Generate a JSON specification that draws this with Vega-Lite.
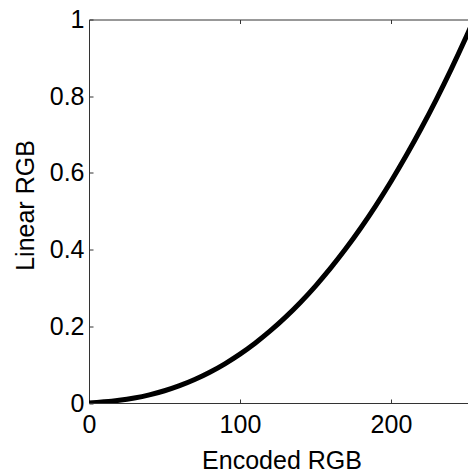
{
  "$schema": "https://vega.github.io/schema/vega-lite/v6.json",
  "autosize": "none",
  "width": 379,
  "height": 383.5,
  "padding": {"left": 89, "top": 19.5, "right": 0, "bottom": 67},
  "background": "white",
  "config": {
    "view": {"stroke": null},
    "font": "Liberation Sans",
    "axis": {
      "domainColor": "#333333",
      "domainWidth": 1,
      "tickColor": "#333333",
      "tickSize": -4,
      "tickWidth": 1,
      "grid": false,
      "labelFont": "Liberation Sans",
      "labelFontSize": 25,
      "labelColor": "black",
      "labelFlush": false,
      "labelOverlap": false,
      "titleFont": "Liberation Sans",
      "titleFontSize": 25,
      "titleFontWeight": "normal",
      "titleColor": "black"
    }
  },
  "data": {
    "values": [
      {"encoded": 0, "linear": 0},
      {"encoded": 5, "linear": 0.00152},
      {"encoded": 10, "linear": 0.00304},
      {"encoded": 15, "linear": 0.00478},
      {"encoded": 20, "linear": 0.00699},
      {"encoded": 30, "linear": 0.01298},
      {"encoded": 40, "linear": 0.02122},
      {"encoded": 50, "linear": 0.0319},
      {"encoded": 60, "linear": 0.04519},
      {"encoded": 70, "linear": 0.06125},
      {"encoded": 80, "linear": 0.08022},
      {"encoded": 90, "linear": 0.10224},
      {"encoded": 100, "linear": 0.12744},
      {"encoded": 110, "linear": 0.15593},
      {"encoded": 120, "linear": 0.18782},
      {"encoded": 130, "linear": 0.22323},
      {"encoded": 140, "linear": 0.26222},
      {"encoded": 150, "linear": 0.30499},
      {"encoded": 160, "linear": 0.35153},
      {"encoded": 170, "linear": 0.40198},
      {"encoded": 180, "linear": 0.45641},
      {"encoded": 190, "linear": 0.51489},
      {"encoded": 200, "linear": 0.57758},
      {"encoded": 210, "linear": 0.64455},
      {"encoded": 220, "linear": 0.71569},
      {"encoded": 230, "linear": 0.79127},
      {"encoded": 240, "linear": 0.87136},
      {"encoded": 250, "linear": 0.95596},
      {"encoded": 255, "linear": 1.0}
    ]
  },
  "layer": [
    {
      "mark": {"type": "line", "color": "black", "strokeWidth": 5, "interpolate": "monotone", "clip": true},
      "encoding": {
        "x": {
          "field": "encoded", "type": "quantitative",
          "scale": {"domain": [0, 255], "range": [0, 385], "nice": false, "zero": false},
          "axis": {
            "orient": "bottom",
            "values": [0, 100, 200],
            "title": "Encoded RGB",
            "labelBaseline": "top",
            "labelPadding": 13,
            "titleBaseline": "alphabetic",
            "titleY": 65
          }
        },
        "y": {
          "field": "linear", "type": "quantitative",
          "scale": {"domain": [0, 1], "nice": false},
          "axis": {
            "orient": "left",
            "values": [0, 0.2, 0.4, 0.6, 0.8, 1],
            "format": "~g",
            "title": "Linear RGB",
            "labelPadding": 9,
            "titleBaseline": "alphabetic",
            "titleAngle": -90,
            "titleX": -55.4,
            "titleY": 185.5
          }
        }
      }
    },
    {
      "mark": {"type": "line", "opacity": 0},
      "encoding": {
        "x": {
          "field": "encoded", "type": "quantitative",
          "scale": {"domain": [0, 255], "range": [0, 385], "nice": false, "zero": false},
          "axis": {"orient": "top", "values": [0, 100, 200], "labels": false, "title": null}
        },
        "y": {
          "field": "linear", "type": "quantitative",
          "scale": {"domain": [0, 1], "nice": false},
          "axis": null
        }
      }
    }
  ],
  "resolve": {"axis": {"x": "independent", "y": "independent"}}
}
